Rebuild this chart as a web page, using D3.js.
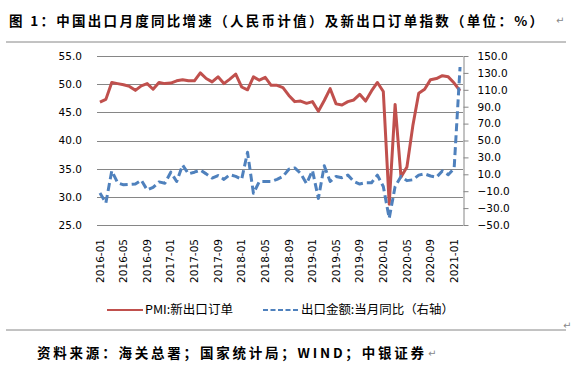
<!DOCTYPE html>
<html>
<head>
<meta charset="utf-8">
<script src="https://cdn.jsdelivr.net/npm/d3@7"></script>
<style>
    body { margin: 0; background: #fff; }
    svg { display: block; }
</style>
</head>
<body>
<svg id="chart" width="572" height="370"></svg>
<script>
// monthly categories, 2016-01 .. 2021-02
const months = [];
for (let yr = 2016; yr <= 2021; yr++) {
    for (let m = 1; m <= 12; m++) {
        months.push(yr + '-' + String(m).padStart(2, '0'));
    }
}
months.splice(62);

// every fourth month gets a label
const tickLabels = ['2016-01', '2016-05', '2016-09', '2017-01', '2017-05', '2017-09',
    '2018-01', '2018-05', '2018-09', '2019-01', '2019-05', '2019-09',
    '2020-01', '2020-05', '2020-09', '2021-01'];

// PMI: new export orders (left axis)
const pmiExport = [46.8, 47.3, 50.3, 50.1, 49.9, 49.6, 48.9, 49.7, 50.1, 49.1, 50.3, 50.1,
    50.2, 50.6, 50.8, 50.6, 50.6, 52.0, 51.0, 50.4, 51.3, 50.1, 50.9, 51.8,
    49.5, 49.0, 51.3, 50.7, 51.2, 49.8, 49.8, 49.4, 48.0, 46.9, 47.0, 46.6,
    46.9, 45.2, 47.1, 49.2, 46.5, 46.3, 46.9, 47.2, 48.2, 47.0, 48.8, 50.3,
    48.7, 28.7, 46.4, 33.5, 35.3, 42.6, 48.4, 49.1, 50.8, 51.0, 51.5, 51.3,
    50.2, 48.8];

// exports, monthly yoy % (right axis)
const exportYoy = [-12, -24, 14, 0, -2.5, -2, -1.5, 3, -8.5, -5.5, 1, -0.5,
    12.5, 1.5, 21, 10.5, 12.5, 15, 10.5, 5.5, 8.5, 4, 9.5, 7.5,
    4, 36, -12.5, 1.5, 1.5, 1.5, 4, 7.5, 16, 17.5, 11, -1,
    14.5, -18.5, 20, 1.5, 7.5, 6, 9, 1.5, -1.5, 0, 0, 9,
    -4.5, -42, -4.5, 7.5, 2.5, 3.5, 9, 10.5, 8, 6.5, 14, 9.5,
    17, 137];

const leftTicks = [25, 30, 35, 40, 45, 50, 55];
const rightTicks = [-50, -30, -10, 10, 30, 50, 70, 90, 110, 130, 150];

const seriesNames = ['PMI:新出口订单', '出口金额:当月同比（右轴）'];
const titleText = '图 1：中国出口月度同比增速（人民币计值）及新出口订单指数（单位：%）';
const sourceText = '资料来源：海关总署；国家统计局；WIND；中银证券';

const RED = '#C0504D';
const BLUE = '#4F81BD';
const GRID = '#868686';

const svg = d3.select('#chart');
const plot = { left: 97, right: 463, top: 56, bottom: 225 };

const x = d3.scaleBand().domain(months).range([plot.left, plot.right]);
const cx = d => x(d) + x.bandwidth() / 2;
const yL = d3.scaleLinear().domain([25, 55]).range([plot.bottom, plot.top]);
const yR = d3.scaleLinear().domain([-50, 150]).range([plot.bottom, plot.top]);

const sansFont = 'DejaVu Sans, Verdana, sans-serif';
const cjkFont = '"Noto Sans CJK SC", sans-serif';

// frame lines above the plot and below the legend
[42, 330].forEach(yy => {
    svg.append('line')
        .attr('x1', 6).attr('x2', 566)
        .attr('y1', yy).attr('y2', yy)
        .style('stroke', GRID).style('stroke-width', 1);
});

// title
svg.append('text')
    .attr('x', 9).attr('y', 26)
    .attr('textLength', 534).attr('lengthAdjust', 'spacing')
    .style('font-family', cjkFont).style('font-weight', 'bold')
    .style('font-size', '13.5px').style('fill', '#000')
    .text(titleText);

// gridlines
svg.append('g')
    .selectAll('line')
    .data(leftTicks)
    .enter().append('line')
    .attr('x1', plot.left).attr('x2', plot.right)
    .attr('y1', d => Math.round(yL(d)) + 0.5)
    .attr('y2', d => Math.round(yL(d)) + 0.5)
    .style('stroke', GRID).style('stroke-width', 1);

// left axis: labels only
const leftAxis = svg.append('g')
    .attr('transform', `translate(${plot.left},0)`)
    .call(d3.axisLeft(yL).tickValues(leftTicks).tickFormat(d3.format('.1f')).tickSize(0).tickPadding(15));
leftAxis.select('.domain').remove();

// right axis with line and outward ticks
const rightAxis = svg.append('g')
    .attr('transform', `translate(${plot.right + 0.5},0)`)
    .call(d3.axisRight(yR).tickValues(rightTicks).tickFormat(d3.format('.1f'))
        .tickSize(5).tickSizeOuter(0).tickPadding(9));
rightAxis.selectAll('.domain, line').style('stroke', GRID);

// bottom labels, rotated
const bottomAxis = svg.append('g')
    .attr('transform', `translate(0,${plot.bottom})`)
    .call(d3.axisBottom(x).tickValues(tickLabels).tickSize(0));
bottomAxis.select('.domain').remove();
bottomAxis.selectAll('text')
    .attr('transform', 'rotate(-90)')
    .attr('x', -14).attr('y', 0).attr('dy', '0.35em')
    .style('text-anchor', 'end');

svg.selectAll('.tick text')
    .style('font-family', sansFont).style('font-size', '10.5px').style('fill', '#000');

// series
const lineLeft = d3.line().x((d, i) => cx(months[i])).y(d => yL(d));
const lineRight = d3.line().x((d, i) => cx(months[i])).y(d => yR(d));

svg.append('path')
    .attr('d', lineLeft(pmiExport))
    .style('fill', 'none').style('stroke', RED)
    .style('stroke-width', 3).style('stroke-linejoin', 'round');

svg.append('path')
    .attr('d', lineRight(exportYoy))
    .style('fill', 'none').style('stroke', BLUE)
    .style('stroke-width', 3).style('stroke-dasharray', '8,4')
    .style('stroke-linejoin', 'round');

// legend
const legend = svg.append('g');
const legendItems = [
    { name: seriesNames[0], color: RED, dash: null, x: 107, w: 88 },
    { name: seriesNames[1], color: BLUE, dash: '5,2.5', x: 263, w: 153 }
];
legendItems.forEach(item => {
    legend.append('line')
        .attr('x1', item.x).attr('x2', item.x + 36)
        .attr('y1', 310).attr('y2', 310)
        .style('stroke', item.color).style('stroke-width', 2)
        .style('stroke-dasharray', item.dash);
    legend.append('text')
        .attr('x', item.x + 38).attr('y', 314)
        .attr('textLength', item.w).attr('lengthAdjust', 'spacingAndGlyphs')
        .style('font-family', cjkFont).style('font-size', '12px').style('fill', '#000')
        .text(item.name);
});

// source line
svg.append('text')
    .attr('x', 37).attr('y', 358)
    .attr('textLength', 387).attr('lengthAdjust', 'spacing')
    .style('font-family', cjkFont).style('font-weight', 'bold')
    .style('font-size', '13.5px').style('fill', '#000')
    .text(sourceText);

// paragraph marks
[[556, 24], [428, 357], [563, 329]].forEach(p => {
    svg.append('text')
        .attr('x', p[0]).attr('y', p[1])
        .style('font-family', sansFont).style('font-size', '10px').style('fill', '#888')
        .text('↵');
});
</script>
</body>
</html>
